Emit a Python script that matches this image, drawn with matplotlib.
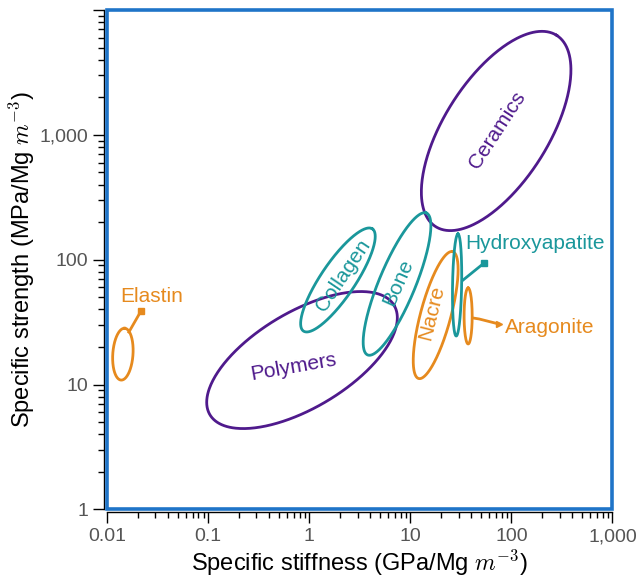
import numpy as np
import matplotlib
matplotlib.use("Agg")
import matplotlib.pyplot as plt
from matplotlib.patches import Rectangle
from matplotlib.ticker import FixedLocator, LogLocator, FuncFormatter

plt.rcParams['font.family'] = ['Liberation Sans', 'DejaVu Sans']
plt.rcParams['mathtext.fontset'] = 'cm'

PURPLE = '#4f1a8c'
TEAL = '#1a979b'
ORANGE = '#e68a1e'
BLUE = '#1f74c8'

# material regions: centre (stiffness, strength), semi-axes in decades, screen angle
names = ['Ceramics', 'Polymers', 'Collagen', 'Bone', 'Nacre', 'Hydroxyapatite', 'Aragonite', 'Elastin']
cx = [70.6, 0.847, 1.92, 7.38, 17.8, 29.0, 37.3, 0.0143]
cy = [1075, 15.7, 68.8, 63.9, 36.0, 62.7, 35.4, 17.5]
semi_a = [1.12, 1.06, 0.61, 0.76, 0.65, 0.505, 0.277, 0.257]
semi_b = [0.515, 0.475, 0.17, 0.18, 0.15, 0.045, 0.04, 0.10]
angle = [57.7, 30.7, 56, 67.5, 75, 89, 90, 86]
colors = [PURPLE, PURPLE, TEAL, TEAL, ORANGE, TEAL, ORANGE, ORANGE]

# labels written inside the regions
inner_names = ['Ceramics', 'Polymers', 'Collagen', 'Bone', 'Nacre']
inner_x = [72.1, 0.69, 2.15, 7.55, 16.4]
inner_y = [1094, 13.8, 75.4, 66.3, 37.4]
inner_rot = [57, 10, 56, 66, 76]
inner_col = [PURPLE, PURPLE, TEAL, TEAL, ORANGE]

# labels with a leader line
lead_names = ['Elastin', 'Hydroxyapatite', 'Aragonite']
lead_tx = [0.01336, 34.8, 86.6]
lead_ty = [50.3, 133.6, 28.4]
lead_x = [[0.0164, 0.0216], [33.3, 53.7], [41.8, 47.9, 75.5]]
lead_y = [[26.3, 38.8], [68.8, 94.1], [34.1, 33.5, 30.5]]
lead_mk = ['s', 's', '>']
lead_col = [ORANGE, TEAL, ORANGE]

xticks = [0.01, 0.1, 1, 10, 100, 1000]
yticks = [1, 10, 100, 1000, 10000]

fig = plt.figure(figsize=(6.38, 5.83), dpi=100)
ax = fig.add_axes([0.168, 0.1264, 0.792, 0.8563])
ax.set_xscale('log')
ax.set_yscale('log')
ax.set_xlim(0.01, 1000)
ax.set_ylim(1, 10000)

# ratio of screen size of one y decade to one x decade
pos = ax.get_position()
r = (pos.height * 583 / 4) / (pos.width * 638 / 5)

t = np.linspace(0, 2 * np.pi, 400)
for i in range(len(names)):
    th = np.radians(angle[i])
    u = semi_a[i] * np.cos(t) * np.cos(th) - semi_b[i] * np.sin(t) * np.sin(th)
    v = semi_a[i] * np.cos(t) * np.sin(th) + semi_b[i] * np.sin(t) * np.cos(th)
    lx = np.log10(cx[i]) + u
    ly = np.log10(cy[i]) + v / r
    ax.plot(10 ** lx, 10 ** ly, color=colors[i], lw=2.0, zorder=3)

for i in range(len(inner_names)):
    ax.text(inner_x[i], inner_y[i], inner_names[i], color=inner_col[i], fontsize=15,
            rotation=inner_rot[i], ha='center', va='center', rotation_mode='anchor', zorder=4)

for i in range(len(lead_names)):
    ax.plot(lead_x[i], lead_y[i], color=lead_col[i], lw=2.0, zorder=3)
    ax.plot(lead_x[i][-1], lead_y[i][-1], marker=lead_mk[i], color=lead_col[i], ms=5, zorder=3)
    ax.text(lead_tx[i], lead_ty[i], lead_names[i], color=lead_col[i], fontsize=15,
            ha='left', va='center', zorder=4)

# axes: black ticked spines outside, blue frame on top
for s in ['top', 'right']:
    ax.spines[s].set_visible(False)
for s in ['left', 'bottom']:
    ax.spines[s].set_color('black')
    ax.spines[s].set_linewidth(1.0)
    ax.spines[s].set_position(('outward', 2))
ax.add_patch(Rectangle((0, 0), 1, 1, transform=ax.transAxes, fill=False,
                       edgecolor=BLUE, lw=2.6, clip_on=False, zorder=5))

ax.xaxis.set_major_locator(FixedLocator(xticks))
ax.yaxis.set_major_locator(FixedLocator(yticks))
ax.xaxis.set_minor_locator(LogLocator(base=10, subs=np.arange(2, 10)))
ax.yaxis.set_minor_locator(LogLocator(base=10, subs=np.arange(2, 10)))


def fmt(v, p):
    if v >= 10000:
        return ''
    if v >= 1:
        return '{:,.0f}'.format(v)
    return '{:g}'.format(v)


ax.xaxis.set_major_formatter(FuncFormatter(fmt))
ax.yaxis.set_major_formatter(FuncFormatter(fmt))
ax.xaxis.set_minor_formatter(FuncFormatter(lambda v, p: ''))
ax.yaxis.set_minor_formatter(FuncFormatter(lambda v, p: ''))
ax.tick_params(which='major', direction='out', length=8, width=1.0, color='black',
               labelsize=14, labelcolor='#555555')
ax.tick_params(which='minor', direction='out', length=4.5, width=1.0, color='black')

ax.set_xlabel(r'Specific stiffness (GPa/Mg $m^{-3}$)', fontsize=17, labelpad=2)
ax.set_ylabel(r'Specific strength (MPa/Mg $m^{-3}$)', fontsize=17, labelpad=2)

fig.savefig('out.png', dpi=100)
